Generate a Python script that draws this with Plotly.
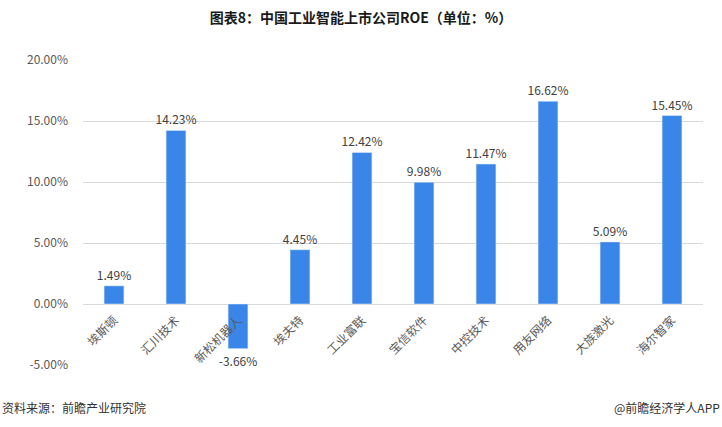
import plotly.graph_objects as go

companies = ["埃斯顿", "汇川技术", "新松机器人", "埃夫特", "工业富联", "宝信软件", "中控技术", "用友网络", "大族激光", "海尔智家"]
roe = [1.49, 14.23, -3.66, 4.45, 12.42, 9.98, 11.47, 16.62, 5.09, 15.45]
tick_vals = [-5, 0, 5, 10, 15, 20]
tick_text = ["-5.00%", "0.00%", "5.00%", "10.00%", "15.00%", "20.00%"]

font = "Noto Sans CJK SC, Microsoft YaHei, sans-serif"

fig = go.Figure(go.Bar(
    x=companies, y=roe,
    marker_color="#3A86E8",
    width=0.32,
    text=[f"{v:.2f}%" for v in roe],
    textposition="outside",
    constraintext="none",
    textfont=dict(size=12, color="#404040", family=font),
    cliponaxis=False,
))

fig.update_layout(
    width=722, height=427,
    margin=dict(l=83, r=19, t=60, b=62),
    plot_bgcolor="white", paper_bgcolor="white",
    font=dict(family=font, size=12, color="#595959"),
    showlegend=False,
    title=dict(text="<b>图表8：中国工业智能上市公司ROE（单位：%）</b>",
               x=0.5, xanchor="center", y=0.958, yanchor="middle",
               font=dict(size=14, color="#1a1a1a", family=font)),
    yaxis=dict(range=[-5, 20], tickvals=tick_vals, ticktext=tick_text,
               showgrid=True, gridcolor="#d9d9d9", gridwidth=1,
               zeroline=True, zerolinecolor="#d9d9d9", zerolinewidth=1,
               ticks="", showline=False, ticklabelstandoff=14,
               tickfont=dict(size=12, color="#595959")),
    xaxis=dict(tickangle=-45, showline=False, ticks="", showgrid=False,
               tickfont=dict(size=12, color="#595959"),
               anchor="free", position=0.18),
    bargap=0.68,
    annotations=[
        dict(text="资料来源：前瞻产业研究院", xref="paper", yref="paper",
             x=-83/620, y=-0.14, xanchor="left", yanchor="middle", showarrow=False,
             font=dict(size=12, color="#333333", family=font)),
        dict(text="@前瞻经济学人APP", xref="paper", yref="paper",
             x=1+19/620, y=-0.14, xanchor="right", yanchor="middle", showarrow=False,
             font=dict(size=12, color="#333333", family=font)),
    ],
)

fig.write_html("out.html")
